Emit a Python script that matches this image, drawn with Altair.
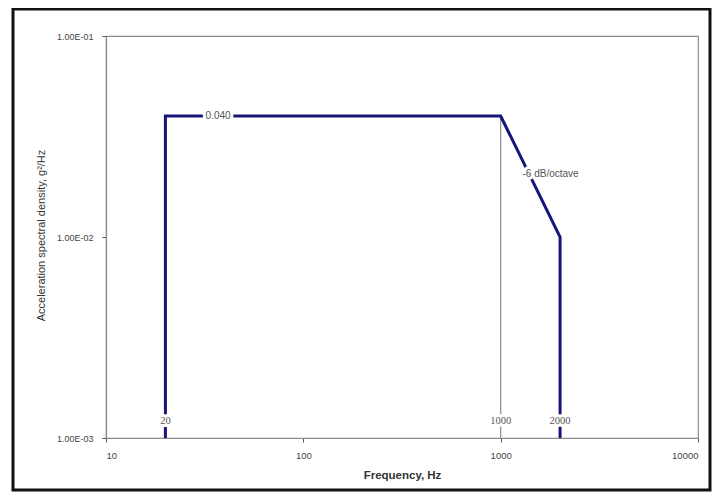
import altair as alt
import pandas as pd

# Test spectrum profile (breakpoints)
freq = [20, 20, 1000, 2000, 2000]
asd = [0.001, 0.04, 0.04, 0.01, 0.001]

# Freq labels at the bottom
freq_labels = ["20", "1000", "2000"]
freq_label_x = [20, 1000, 2000]
freq_label_y = [0.00121, 0.00121, 0.00121]

# Level / slope annotations
ann_text = ["0.040", "-6 dB/octave"]
ann_x = [37, 1290]
ann_y = [0.04, 0.0205]
ann_align = ["center", "left"]

y_ticks = [0.001, 0.01, 0.1]
y_tick_labels = ["1.00E-03", "1.00E-02", "1.00E-01"]
x_ticks = [10, 100, 1000, 10000]

profile = pd.DataFrame({"f": freq, "g": asd, "i": list(range(len(freq)))})
flab = pd.DataFrame({"f": freq_label_x, "g": freq_label_y, "t": freq_labels})
ann = pd.DataFrame({"f": ann_x, "g": ann_y, "t": ann_text, "a": ann_align})
ref = pd.DataFrame({"f": [1000], "g": [0.001], "g2": [0.04]})

label_expr = " : ".join(
    f"datum.value == {v} ? '{t}'" for v, t in zip(y_ticks, y_tick_labels)
) + " : ''"

xscale = alt.Scale(type="log", domain=[10, 10000], nice=False)
yscale = alt.Scale(type="log", domain=[0.001, 0.1], nice=False)

xenc = alt.X(
    "f:Q", scale=xscale,
    axis=alt.Axis(values=x_ticks, format="d", title="Frequency, Hz",
                  grid=False, tickSize=4, labelPadding=8, labelFontSize=9.5,
                  titleX=296, titleY=37, titleFontWeight="bold", titleFontSize=11.5,
                  titleFont="Liberation Sans", titleColor="#333333",
                  titleBaseline="middle"),
)
yenc = alt.Y(
    "g:Q", scale=yscale,
    axis=alt.Axis(values=y_ticks, labelExpr=label_expr,
                  title="Acceleration spectral density, g²/Hz",
                  grid=False, tickSize=4, labelPadding=9, labelFontSize=9,
                  titleX=-65, titleY=199, titleAngle=-90, titleAlign="center",
                  titleBaseline="middle", titleFontWeight="normal", titleFontSize=11,
                  titleFont="Liberation Sans", titleColor="#333333"),
)

refline = alt.Chart(ref).mark_rule(color="#8c8c8c", strokeWidth=1.2).encode(
    x=alt.X("f:Q", scale=xscale), y=alt.Y("g:Q", scale=yscale), y2="g2:Q"
)

line = alt.Chart(profile).mark_line(color="#16167a", strokeWidth=3).encode(
    x=xenc, y=yenc, order="i:Q"
)

def halo_text(df, font, size, align="center"):
    base = alt.Chart(df)
    kw = dict(font=font, fontSize=size, baseline="middle", align=align)
    h = base.mark_text(stroke="white", strokeWidth=6, color="white", **kw)
    t = base.mark_text(color="#555555", **kw)
    enc = dict(x=alt.X("f:Q", scale=xscale), y=alt.Y("g:Q", scale=yscale), text="t:N")
    return h.encode(**enc) + t.encode(**enc)

flab_layer = halo_text(flab, "Liberation Serif", 10.5)
ann0 = halo_text(ann[ann.a == "center"], "Liberation Sans", 10, "center")
ann1 = halo_text(ann[ann.a == "left"], "Liberation Sans", 10, "left")

frame = alt.Chart(pd.DataFrame({"d": [0]})).mark_rect(
    fill=None, stroke="#111111", strokeWidth=3
).encode(
    x=alt.value(-93), x2=alt.value(604), y=alt.value(-27), y2=alt.value(454)
)

chart = alt.layer(refline, line, flab_layer, ann0, ann1, frame).properties(
    width=592, height=402,
    autosize=alt.AutoSizeParams(type="none"),
    padding={"left": 98, "top": 28, "right": 14, "bottom": 54},
    background="white",
).configure_view(
    stroke="#8c8c8c", strokeWidth=1.2
).configure_axis(
    domainColor="#8c8c8c", tickColor="#555555", labelFont="Liberation Sans",
    labelColor="#444444", domainWidth=1.2
)

chart.save("out.html", embed_options={"renderer": "svg", "actions": False})
